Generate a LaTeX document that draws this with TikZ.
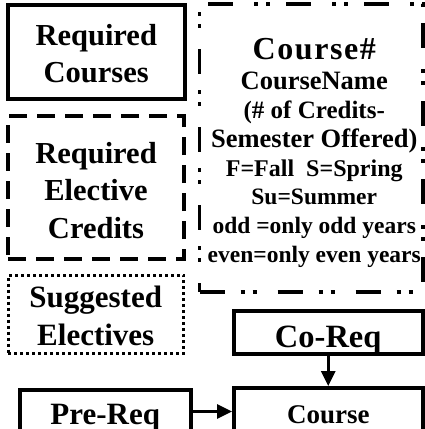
\documentclass[tikz,border=0pt]{standalone}
\usepackage{fontspec}
\setmainfont{Liberation Serif}
\usetikzlibrary{arrows.meta}
\newcommand\cnl{\hspace*{6pt}}
\begin{document}
\begin{tikzpicture}[x=1pt,y=-1pt,
  box/.style={draw=black, rectangle, inner sep=0pt, outer sep=0pt, line width=4pt, align=center},
  solidbox/.style={box},
  dashbox/.style={box, dash pattern=on 18pt off 10pt},
  dotbox/.style={box, line width=3pt, dash pattern=on 3pt off 3pt},
  dashdotbox/.style={box, line width=3.5pt, dash pattern=on 25pt off 16pt on 4pt off 8pt on 4pt off 21pt},
  conn/.style={line width=3pt, -{Triangle[length=15pt,width=14pt]}, shorten >=2pt}
]
\useasboundingbox (0,0) rectangle (424,429);

\node[solidbox, minimum width=176.5pt, minimum height=94pt,
  font={\fontsize{30.5}{37}\selectfont\bfseries}] (rc) at (96.25,52)
  {\rule{0pt}{30pt}Required\\Courses\rule[-7pt]{0pt}{7pt}};

\node[dashbox, minimum width=176pt, minimum height=143pt,
  font={\fontsize{30.5}{37.5}\selectfont\bfseries}] (rec) at (96,187.5)
  {\rule{0pt}{30pt}Required\\Elective\\Credits\rule[-4pt]{0pt}{4pt}};

\node[dotbox, minimum width=175.5pt, minimum height=78.5pt,
  font={\fontsize{31}{38}\selectfont\bfseries}] (se) at (95.75,314.25)
  {\rule{0pt}{30pt}Suggested\\Electives\rule[-6.5pt]{0pt}{6.5pt}};

\node[dashdotbox, minimum width=223.5pt, minimum height=288pt,
  font={\fontsize{23.5}{28.7}\selectfont\bfseries}] (cn) at (311.25,148)
  {\cnl\rule{0pt}{34pt}{\fontsize{32}{28.7}\selectfont\addfontfeature{LetterSpace=5}Course\#}\\[1.3pt]
   \cnl{\fontsize{26.5}{28.7}\selectfont CourseName}\\
   \cnl{\fontsize{25}{28.7}\selectfont (\# of Credits-}\\
   \cnl{\fontsize{26.5}{28.7}\selectfont Semester Offered)}\\
   \cnl{\fontsize{24}{28.7}\selectfont F=Fall\ \ S=Spring}\\
   \cnl Su=Summer\\
   \cnl odd =only odd years\\
   \cnl even=only even years\rule[-8pt]{0pt}{8pt}};

\node[solidbox, minimum width=188.5pt, minimum height=43.5pt,
  font={\fontsize{32.5}{36}\selectfont\bfseries}, text height=34pt, text depth=4.5pt] (coreq) at (328.25,332.25) {Co-Req};

\node[solidbox, minimum width=188.5pt, minimum height=47pt,
  font={\fontsize{27}{32}\selectfont\bfseries}, text height=28pt, text depth=5pt] (course) at (328.25,411.5) {Course};

\node[solidbox, minimum width=170.5pt, minimum height=43pt,
  font={\fontsize{31}{36}\selectfont\bfseries}, text height=30pt, text depth=5pt] (prereq) at (105.25,411.5) {Pre-Req};

\draw[conn] (prereq) -- (course);
\draw[conn] (coreq) -- (course);
\end{tikzpicture}
\end{document}
